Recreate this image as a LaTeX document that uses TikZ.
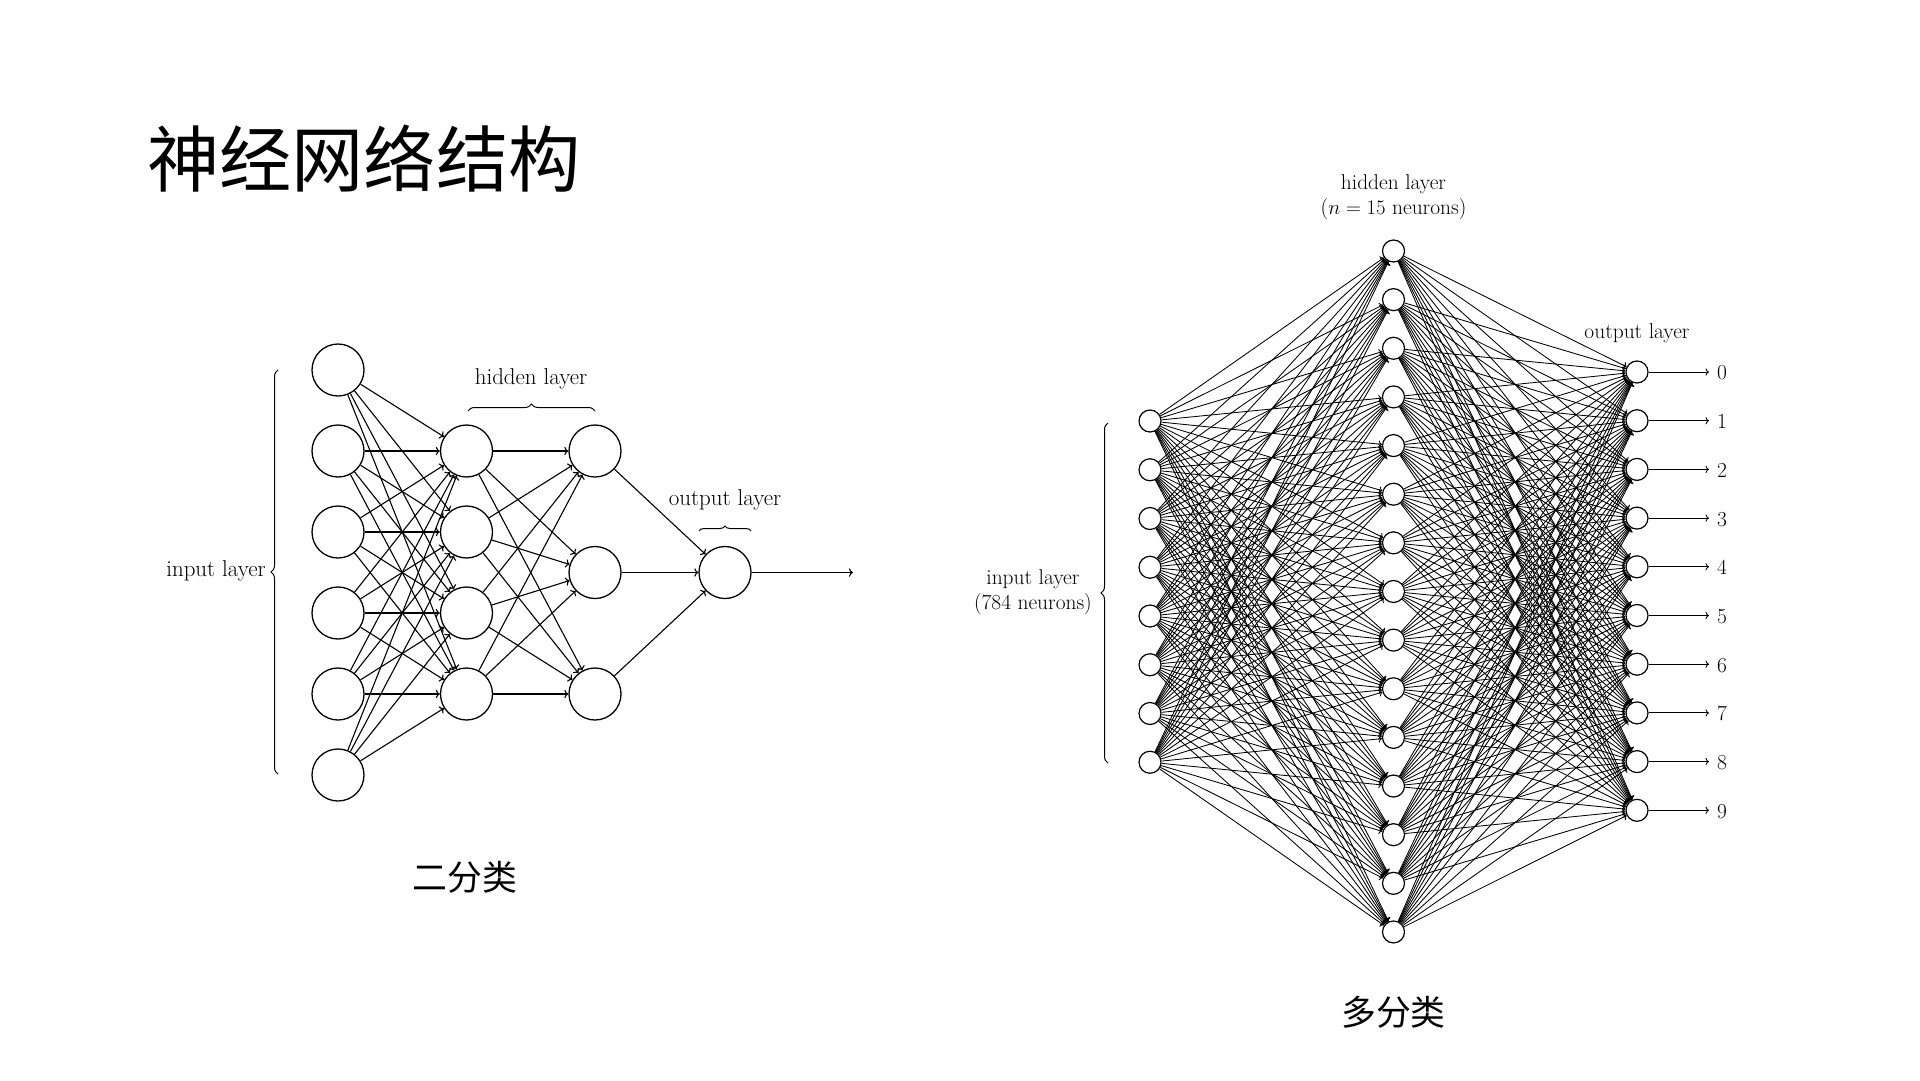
\documentclass[tikz,border=0pt]{standalone}
\usepackage{fontspec}
\newfontfamily\cjk{Noto Sans CJK SC}
\usetikzlibrary{decorations.pathreplacing,arrows.meta}
\begin{document}
\begin{tikzpicture}[x=1bp,y=-1bp,
  bigneuron/.style={draw, circle, minimum size=52bp, inner sep=0pt, line width=1.3bp},
  smallneuron/.style={draw, circle, minimum size=22bp, inner sep=0pt, line width=1.2bp},
  wire/.style={->, line width=1.1bp},
  thinwire/.style={->, line width=0.85bp},
  bracedec/.style={decorate, decoration={brace, amplitude=7bp}, line width=1bp},
  lbl/.style={font=\fontsize{23}{27}\selectfont, inner sep=0pt},
  rlbl/.style={font=\fontsize{21.5}{25}\selectfont, inner sep=0pt},
  cjklbl/.style={font=\cjk\fontsize{35}{40}\selectfont, inner sep=0pt},
]
\useasboundingbox (0,0) rectangle (1920,1080);

% title
\node[font=\cjk\fontsize{72.5}{80}\selectfont, anchor=west, inner sep=0pt] (title) at (147,159) {神经网络结构};

% ---------------- left network ----------------
\foreach \i in {1,...,6} \node[bigneuron] (LA-\i) at (338, {370+81*(\i-1)}) {};
\foreach \i in {1,...,4} \node[bigneuron] (LB-\i) at (466.5, {451+81*(\i-1)}) {};
\node[bigneuron] (LC-1) at (595, 451) {};
\node[bigneuron] (LC-2) at (595, 572.5) {};
\node[bigneuron] (LC-3) at (595, 694) {};
\node[bigneuron] (LD) at (725, 572.5) {};
\coordinate (Lout) at (853, 572.5);

\foreach \i in {1,...,6} \foreach \j in {1,...,4} \draw[wire] (LA-\i) -- (LB-\j);
\foreach \i in {1,...,4} \foreach \j in {1,...,3} \draw[wire] (LB-\i) -- (LC-\j);
\foreach \i in {1,...,3} \draw[wire] (LC-\i) -- (LD);
\draw[wire] (LD) -- (Lout);

\coordinate (LbrB) at (278, 774);
\coordinate (LbrT) at (278, 370);
\draw[bracedec] (LbrB) -- (LbrT);
\node[lbl, anchor=east] (Linlbl) at (266, 571) {input layer};

\coordinate (LhbL) at (468, 411);
\coordinate (LhbR) at (595, 411);
\draw[bracedec] (LhbL) -- (LhbR);
\node[lbl] (Lhidlbl) at (531, 379) {hidden layer};

\coordinate (LobL) at (699, 531);
\coordinate (LobR) at (751, 531);
\draw[bracedec, decoration={brace, amplitude=5bp}] (LobL) -- (LobR);
\node[lbl] (Loutlbl) at (725, 500) {output layer};

\node[cjklbl] (cap1) at (465, 877) {二分类};

% ---------------- right network ----------------
\foreach \i in {1,...,8} \node[smallneuron] (RA-\i) at (1150, {421+48.75*(\i-1)}) {};
\foreach \i in {1,...,15} \node[smallneuron] (RB-\i) at (1393.5, {251+48.64*(\i-1)}) {};
\foreach \i in {0,...,9} {
  \node[smallneuron] (RC-\i) at (1637, {372+48.7*\i}) {};
  \coordinate (RE-\i) at (1709, {372+48.7*\i});
  \node[rlbl, anchor=west] (RL-\i) at (1717, {373+48.7*\i}) {\i};
}
\foreach \i in {1,...,8} \foreach \j in {1,...,15} \draw[thinwire] (RA-\i) -- (RB-\j);
\foreach \i in {1,...,15} \foreach \j in {0,...,9} \draw[thinwire] (RB-\i) -- (RC-\j);
\foreach \i in {0,...,9} \draw[thinwire] (RC-\i) -- (RE-\i);

\coordinate (RbrB) at (1108, 763);
\coordinate (RbrT) at (1108, 423);
\draw[bracedec] (RbrB) -- (RbrT);
\node[rlbl, align=center, anchor=east] (Rinlbl) at (1092, 592) {input layer\\(784 neurons)};
\node[rlbl, align=center] (Rhidlbl) at (1393.5, 197) {hidden layer\\($n=15$ neurons)};
\node[rlbl] (Routlbl) at (1637, 333) {output layer};

\node[cjklbl] (cap2) at (1393.5, 1012) {多分类};
\end{tikzpicture}
\end{document}
